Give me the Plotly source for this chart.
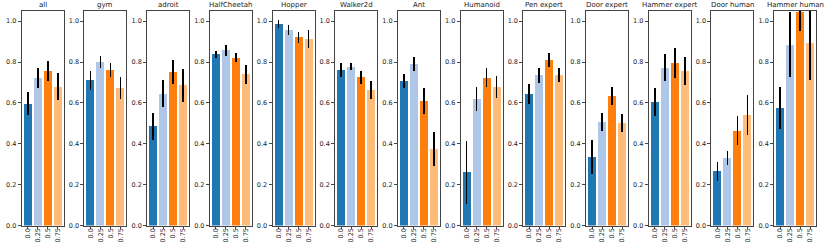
import plotly.graph_objects as go

titles = ["all", "gym", "adroit", "HalfCheetah", "Hopper", "Walker2d", "Ant",
          "Humanoid", "Pen expert", "Door expert", "Hammer expert", "Door human",
          "Hammer human"]
tick_labels = ["0.0", "0.25", "0.5", "0.75"]
bar_colors = ["#1f77b4", "#aec7e8", "#ff7f0e", "#ffbb78"]

means = [
    [0.596, 0.723, 0.756, 0.679],
    [0.710, 0.800, 0.761, 0.673],
    [0.485, 0.645, 0.751, 0.686],
    [0.839, 0.857, 0.821, 0.741],
    [0.985, 0.958, 0.921, 0.912],
    [0.761, 0.777, 0.725, 0.663],
    [0.707, 0.790, 0.611, 0.373],
    [0.261, 0.620, 0.724, 0.678],
    [0.644, 0.735, 0.810, 0.737],
    [0.335, 0.507, 0.635, 0.500],
    [0.605, 0.772, 0.795, 0.756],
    [0.265, 0.329, 0.464, 0.541],
    [0.576, 0.885, 1.044, 0.893],
]
errors = [
    [0.057, 0.049, 0.048, 0.066],
    [0.047, 0.031, 0.036, 0.052],
    [0.067, 0.066, 0.060, 0.081],
    [0.017, 0.026, 0.023, 0.047],
    [0.020, 0.025, 0.027, 0.045],
    [0.033, 0.018, 0.031, 0.046],
    [0.033, 0.033, 0.063, 0.084],
    [0.154, 0.058, 0.046, 0.056],
    [0.050, 0.037, 0.033, 0.033],
    [0.082, 0.045, 0.045, 0.044],
    [0.070, 0.067, 0.074, 0.069],
    [0.045, 0.035, 0.072, 0.097],
    [0.102, 0.160, 0.090, 0.180],
]

W, H = 830, 245
left0, pitch, pw = 21.7, 62.7, 42.0
ybot, ytop = 225.5, 11.0
ydom = [(H - ybot) / H, (H - ytop) / H]

fig = go.Figure()
font = dict(family="DejaVu Sans", size=6.5, color="#222")
annotations = []
for i, t in enumerate(titles):
    k = "" if i == 0 else str(i + 1)
    x0 = (left0 + pitch * i) / W
    x1 = (left0 + pitch * i + pw) / W
    fig.add_trace(go.Bar(
        x=list(range(4)), y=means[i], width=0.8,
        marker=dict(color=bar_colors, line=dict(width=0)),
        error_y=dict(type="data", array=errors[i], color="black",
                     thickness=1.6, width=0),
        xaxis="x" + k, yaxis="y" + k, showlegend=False,
    ))
    fig.layout["xaxis" + k] = dict(
        domain=[x0, x1], anchor="y" + k, range=[-0.6, 3.6],
        tickvals=list(range(4)), ticktext=tick_labels, tickangle=-90,
        showline=True, mirror=True, linecolor="#444", linewidth=1,
        ticks="outside", ticklen=2, tickwidth=0.8, tickcolor="#444",
        ticklabelstandoff=-3, automargin=False,
        showgrid=False, zeroline=False, tickfont=font, fixedrange=True,
    )
    fig.layout["yaxis" + k] = dict(
        domain=ydom, anchor="x" + k, range=[0, 1.05],
        tickvals=[0, 0.2, 0.4, 0.6, 0.8, 1.0],
        ticktext=["0.0", "0.2", "0.4", "0.6", "0.8", "1.0"],
        showline=True, mirror=True, linecolor="#444", linewidth=1,
        ticks="outside", ticklen=3, tickwidth=0.8, tickcolor="#444",
        automargin=False,
        showgrid=False, zeroline=False, tickfont=font, fixedrange=True,
    )
    annotations.append(dict(
        text=t, x=(x0 + x1) / 2, y=ydom[1], xref="paper", yref="paper",
        xanchor="center", yanchor="bottom", yshift=0, showarrow=False,
        font=dict(family="DejaVu Sans", size=7, color="#222"),
    ))

fig.update_layout(
    width=W, height=H, margin=dict(l=0, r=0, t=0, b=0, autoexpand=False),
    paper_bgcolor="white", plot_bgcolor="white",
    annotations=annotations, bargap=0,
)
fig.write_html("out.html", config={"displayModeBar": False},
               post_script="document.body.style.margin='0';document.body.style.overflow='hidden';")
